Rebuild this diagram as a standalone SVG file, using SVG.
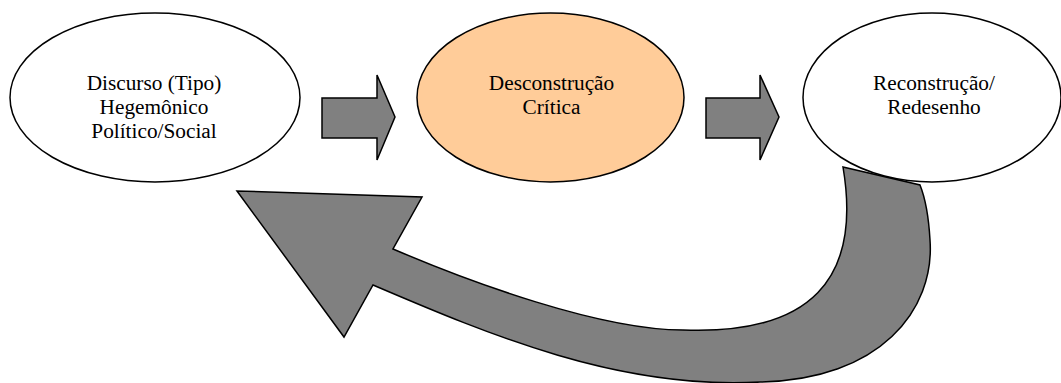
<svg xmlns="http://www.w3.org/2000/svg" width="1061" height="383" viewBox="0 0 1061 383">
<style>
.node ellipse{stroke:#000;stroke-width:1.5}
text{font-family:'Liberation Serif','Tinos','Times New Roman','DejaVu Serif',serif;font-size:21.3px;fill:#000;text-anchor:middle}
.arr{fill:#808080;stroke:#000;stroke-width:1.5;stroke-linejoin:miter}
</style>
<rect width="1061" height="383" fill="#fff"/>
<g id="connectors">
<polygon class="arr" points="322,98 377,98 377,75 395,117 377,160 377,138 322,138"/>
<polygon class="arr" points="706,98 760,98 760,75 779,117 760,160 760,138 706,138"/>
<path class="arr" d="M843,167 C862,280 810,335 683,330 C600,330 470,282 393,249 L422,197 L237,191 L344,337 L373,285 C490,335 620,390 760,382 C880,380 935,310 930,240 Q928,205 920,185 Z"/>
</g>
<g id="node-discurso" class="node">
<ellipse cx="155" cy="97.5" rx="145" ry="84.5" fill="#fff"/>
<text x="154" y="90" font-family="Liberation Serif, DejaVu Serif, serif">Discurso (Tipo)</text>
<text x="154" y="114" font-family="Liberation Serif, DejaVu Serif, serif">Hegemônico</text>
<text x="154" y="138" font-family="Liberation Serif, DejaVu Serif, serif">Político/Social</text>
</g>
<g id="node-desconstrucao" class="node">
<ellipse cx="550.5" cy="97.5" rx="133.5" ry="84.5" fill="#FFCC99"/>
<text x="551.5" y="90" font-family="Liberation Serif, DejaVu Serif, serif">Desconstrução</text>
<text x="551.5" y="114" font-family="Liberation Serif, DejaVu Serif, serif">Crítica</text>
</g>
<g id="node-reconstrucao" class="node">
<ellipse cx="932" cy="97.5" rx="129" ry="84.5" fill="#fff"/>
<text x="934" y="90" font-family="Liberation Serif, DejaVu Serif, serif">Reconstrução/</text>
<text x="934" y="114" font-family="Liberation Serif, DejaVu Serif, serif">Redesenho</text>
</g>
</svg>
